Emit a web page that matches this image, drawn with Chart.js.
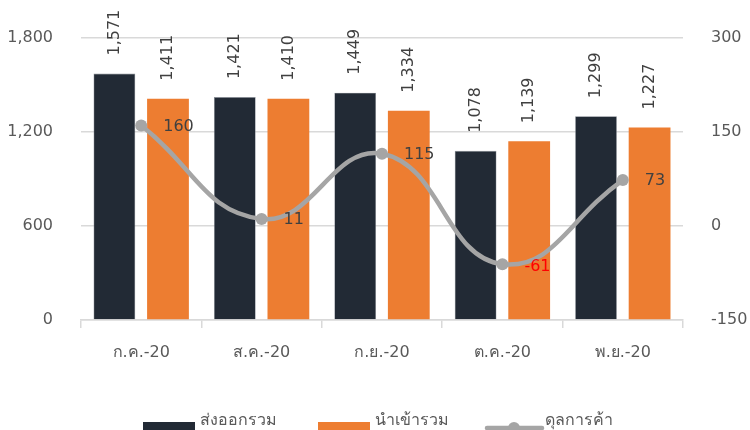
<!DOCTYPE html>
<html>
<head>
<meta charset="utf-8">
<script src="https://cdn.jsdelivr.net/npm/chart.js@4"></script>
<style>
  html, body { margin: 0; padding: 0; background: #fff; }
  #wrap { width: 750px; height: 430px; }
</style>
</head>
<body>
<div id="wrap"><canvas id="myChart" width="750" height="430"></canvas></div>
<script>
const months = ['ก.ค.-20', 'ส.ค.-20', 'ก.ย.-20', 'ต.ค.-20', 'พ.ย.-20'];
const exportsTotal = [1571, 1421, 1449, 1078, 1299];
const importsTotal = [1411, 1410, 1334, 1139, 1227];
const tradeBalance = [160, 11, 115, -61, 73];
const leftTicks = [0, 600, 1200, 1800];
const rightTicks = [-150, 0, 150, 300];
const seriesNames = ['ส่งออกรวม', 'นำเข้ารวม', 'ดุลการค้า'];

const FONT = 'Tahoma, "DejaVu Sans", "Noto Sans", sans-serif';
const TEXT = '#595959';
const GRID = '#d9d9d9';
const ctx = document.getElementById('myChart').getContext('2d');

const fmt = v => v.toLocaleString('en-US');

// value labels: rotated above bars, beside line points
const labelPlugin = {
    id: 'valueLabels',
    afterDatasetsDraw(chart) {
        const c = chart.ctx;
        c.save();
        c.font = '16px ' + FONT;
        chart.data.datasets.forEach((ds, i) => {
            const meta = chart.getDatasetMeta(i);
            meta.data.forEach((el, j) => {
                const v = ds.data[j];
                if (ds.type === 'line') {
                    c.fillStyle = v < 0 ? '#ff0000' : '#404040';
                    c.textAlign = 'left';
                    c.textBaseline = 'middle';
                    c.fillText(fmt(v), el.x + 22, el.y + (v < 0 ? 3 : 1));
                } else {
                    c.save();
                    c.translate(el.x, el.y - 18);
                    c.rotate(-Math.PI / 2);
                    c.fillStyle = '#404040';
                    c.textAlign = 'left';
                    c.textBaseline = 'middle';
                    c.fillText(fmt(v), 0, 0);
                    c.restore();
                }
            });
        });
        c.restore();
    }
};

// right axis labels + legend drawn by hand
const extrasPlugin = {
    id: 'extras',
    afterDraw(chart) {
        const c = chart.ctx;
        const byLabel = name => chart.data.datasets.find(d => d.label === name);
        const exp = byLabel(seriesNames[0]);
        const imp = byLabel(seriesNames[1]);
        const bal = byLabel(seriesNames[2]);
        const y2 = chart.scales.y2;
        c.save();
        c.font = '16px ' + FONT;
        c.fillStyle = TEXT;
        c.textAlign = 'left';
        c.textBaseline = 'middle';
        rightTicks.forEach(v => {
            c.fillText(fmt(v), chart.chartArea.right + 28, y2.getPixelForValue(v));
        });

        c.textBaseline = 'alphabetic';
        c.fillStyle = exp.backgroundColor;
        c.fillRect(143, 422, 52, 16);
        c.fillStyle = TEXT;
        c.fillText(exp.label, 200, 425);
        c.fillStyle = imp.backgroundColor;
        c.fillRect(318, 422, 52, 16);
        c.fillStyle = TEXT;
        c.fillText(imp.label, 375, 425);

        c.strokeStyle = bal.borderColor;
        c.lineWidth = 4.5;
        c.lineCap = 'round';
        c.beginPath();
        c.moveTo(487, 428);
        c.lineTo(542, 428);
        c.stroke();
        c.fillStyle = bal.borderColor;
        c.beginPath();
        c.arc(514, 428, 6, 0, Math.PI * 2);
        c.fill();
        c.fillStyle = TEXT;
        c.fillText(bal.label, 545, 425);
        c.restore();
    }
};

new Chart(ctx, {
    data: {
        labels: months,
        datasets: [
            {
                type: 'line',
                label: seriesNames[2],
                data: tradeBalance,
                yAxisID: 'y2',
                borderColor: '#a5a5a5',
                backgroundColor: '#a5a5a5',
                borderWidth: 4.5,
                tension: 0.45,
                pointRadius: 6,
                pointBackgroundColor: '#a5a5a5',
                pointBorderWidth: 0,
                order: 0
            },
            {
                type: 'bar',
                label: seriesNames[0],
                data: exportsTotal,
                yAxisID: 'y',
                backgroundColor: '#222a35',
                borderColor: '#8a9099',
                borderWidth: 0.6,
                categoryPercentage: 0.89,
                barPercentage: 0.78,
                order: 1
            },
            {
                type: 'bar',
                label: seriesNames[1],
                data: importsTotal,
                yAxisID: 'y',
                backgroundColor: '#ed7d31',
                categoryPercentage: 0.89,
                barPercentage: 0.78,
                order: 1
            }
        ]
    },
    options: {
        responsive: false,
        animation: false,
        devicePixelRatio: 1,
        layout: { padding: { top: 32.4, left: 0, right: 0, bottom: 0 } },
        plugins: {
            legend: { display: false },
            tooltip: { enabled: false }
        },
        scales: {
            x: {
                offset: true,
                grid: {
                    offset: true,
                    drawOnChartArea: false,
                    drawTicks: true,
                    tickLength: 8,
                    color: GRID,
                    lineWidth: 1.5
                },
                border: { color: GRID, width: 1.5 },
                ticks: {
                    color: TEXT,
                    font: { family: FONT, size: 16 },
                    padding: 15,
                    maxRotation: 0
                },
                afterFit(scale) { scale.height = 110; }
            },
            y: {
                position: 'left',
                min: leftTicks[0],
                max: leftTicks[leftTicks.length - 1],
                afterBuildTicks(scale) { scale.ticks = leftTicks.map(v => ({ value: v })); },
                grid: { color: GRID, lineWidth: 1.5, drawTicks: false },
                border: { display: false },
                ticks: {
                    color: TEXT,
                    font: { family: FONT, size: 16 },
                    padding: 28,
                    callback: v => fmt(v)
                },
                afterFit(scale) { scale.width = 81; }
            },
            y2: {
                position: 'right',
                min: rightTicks[0],
                max: rightTicks[rightTicks.length - 1],
                afterBuildTicks(scale) { scale.ticks = rightTicks.map(v => ({ value: v })); },
                grid: { drawOnChartArea: false, drawTicks: false },
                border: { display: false },
                ticks: { display: false },
                afterFit(scale) { scale.width = 67; }
            }
        }
    },
    plugins: [labelPlugin, extrasPlugin]
});
</script>
</body>
</html>
